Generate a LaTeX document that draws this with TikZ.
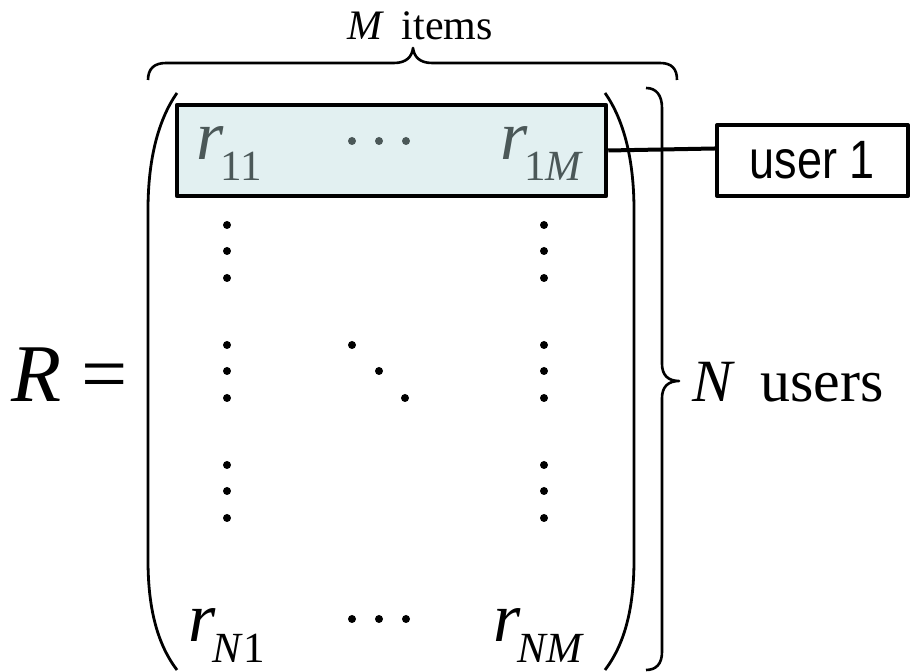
\documentclass[tikz,border=0pt]{standalone}
\usepackage{fontspec}
\setmainfont{Liberation Serif}
\newfontfamily\labelfont{Liberation Sans}
\usepackage{xcolor}
\usetikzlibrary{calc,positioning}
\definecolor{ink}{HTML}{000000}
\definecolor{rowfill}{HTML}{E2F0F1}
\definecolor{rowtext}{HTML}{4B5858}
\newcommand{\entry}[1]{\textit{r}\kern-0.05em\raisebox{-0.3em}{\fontsize{21.5}{21.5}\selectfont #1}}

\begin{document}
\begin{tikzpicture}[x=0.5pt,y=-0.5pt,line join=round,
 dot/.style={fill=ink},
 el/.style={inner sep=0pt,anchor=base west,font=\fontsize{35}{35}\selectfont}]
\useasboundingbox (0,0) rectangle (912,672);
% the highlighted first row and its label
\node[draw=ink,line width=2.25pt,fill=rowfill,minimum width=214.5pt,minimum height=45.5pt,inner sep=0pt] (row) at (391.5,150.5) {};
\node[draw=ink,line width=2pt,minimum width=95.5pt,minimum height=35.5pt,inner sep=0pt,font=\labelfont\fontsize{22.5}{22.5}\selectfont] (user) at (812.5,160.5) {\scalebox{1}[1.2]{user 1}};
\draw[line width=2pt,ink] (row.east) -- ([yshift=6pt]user.west);
% entries
\node[el,text=rowtext] (r11) at (196,160) {\entry{11}};
\node[el,text=rowtext] (r1M) at (500,160) {\entry{1\textit{M}}};
\node[el] (rN1) at (188,642) {\entry{\textit{N}1}};
\node[el] (rNM) at (493,642) {\entry{\textit{NM}}};
\foreach \x in {352,379,406} {\fill[rowtext] (\x,141) circle (4); \fill[dot] (\x,619) circle (4);}
\foreach \y in {225,251,278,345,371,398,465,491,518} {\fill[dot] (227,\y) circle (4); \fill[dot] (544,\y) circle (4);}
\foreach \x/\y in {352/345,379/371,405/398} \fill[dot] (\x,\y) circle (4);
% brackets and braces
\draw[line width=1.4pt,ink] (177,93) .. controls (158,120) and (148,160) .. (148,210) -- (148,560) .. controls (148,610) and (158,645) .. (177,670);
\draw[line width=1.4pt,ink] (605,93) .. controls (624,120) and (634,160) .. (634,210) -- (634,560) .. controls (634,610) and (624,645) .. (605,670);
\draw[line width=1.3pt,ink] (646,88) .. controls (656,88) and (662,95) .. (662,108) -- (662,364) .. controls (662,375) and (668,381) .. (679,381) .. controls (668,381) and (662,387) .. (662,398) -- (662,652) .. controls (662,664) and (656,670) .. (646,670);
\draw[line width=1.3pt,ink] (148,80) .. controls (148,69) and (154,63) .. (166,63) -- (394,63) .. controls (406,63) and (412,57) .. (413,48) .. controls (414,57) and (420,63) .. (432,63) -- (660,63) .. controls (672,63) and (677,69) .. (677,80);
% labels
\node[inner sep=0pt,anchor=base,font=\fontsize{21}{21}\selectfont] (items) at (420,40) {\textit{M}\, items};
\node[inner sep=0pt,anchor=base west,font=\fontsize{30}{30}\selectfont] (users) at (692,402) {\textit{N}\, users};
\node[inner sep=0pt,anchor=base west,font=\fontsize{41}{41}\selectfont] (req) at (11,402) {\textit{R} =};
\end{tikzpicture}
\end{document}
